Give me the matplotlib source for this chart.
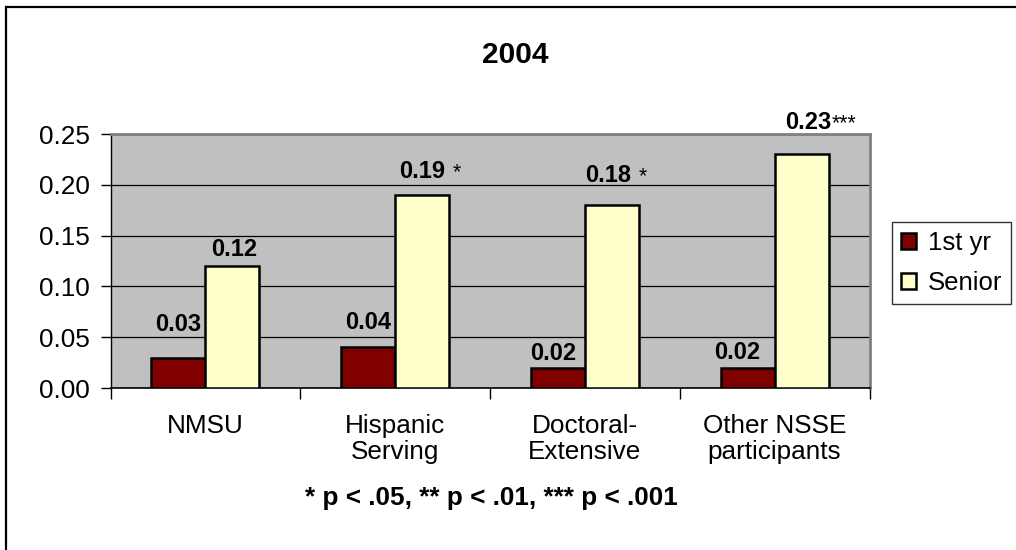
import matplotlib
matplotlib.use("Agg")
import matplotlib.pyplot as plt
import numpy as np
from matplotlib.patches import Rectangle

plt.rcParams['font.family'] = ['Liberation Sans', 'DejaVu Sans']

categories = ["NMSU", "Hispanic\nServing", "Doctoral-\nExtensive", "Other NSSE\nparticipants"]
first_yr = [0.03, 0.04, 0.02, 0.02]
senior = [0.12, 0.19, 0.18, 0.23]
senior_sig = ["", "*", "*", "***"]
yticks = [0.00, 0.05, 0.10, 0.15, 0.20, 0.25]
title = "2004"
footnote = "* p < .05, ** p < .01, *** p < .001"

# label placement styling (pixels)
fy_dy = [35, 26, 16, 17]
fy_dx = [0, 0, -5, -10]
sn_dy = [18, 25, 31, 33]
sn_dx = [2, 0, -4, 7]
sig_gap = [0, 8, 8, 0]

W, H = 1016, 550
fig = plt.figure(figsize=(W / 100, H / 100), dpi=100)
fig.patch.set_facecolor("white")

# outer frame (right/bottom edges fall outside the image)
fig.add_artist(Rectangle((6 / W, -10 / H), 1030 / W, (543 + 10) / H, transform=fig.transFigure,
                         fill=False, edgecolor="black", linewidth=1.6))

ax = fig.add_axes([110.5 / W, 1 - 388 / H, 759 / W, 254 / H])
ax.set_facecolor("#C0C0C0")

x = np.arange(len(categories))
bw = 0.284
b1 = ax.bar(x - bw / 2, first_yr, bw, color="#800000", edgecolor="black", linewidth=1.8,
            label="1st yr", zorder=3)
b2 = ax.bar(x + bw / 2, senior, bw, color="#FFFFCC", edgecolor="black", linewidth=1.8,
            label="Senior", zorder=3)

ax.set_xlim(-0.5, len(categories) - 0.5)
ax.set_ylim(0, 0.25)
ax.set_yticks(yticks)
ax.set_yticklabels([f"{v:.2f}" for v in yticks], fontsize=18.8)
ax.yaxis.grid(True, color="black", linewidth=0.9, zorder=1)
ax.set_axisbelow(True)

ax.set_xticks(np.arange(len(categories) + 1) - 0.5)
ax.set_xticklabels([])
ax.set_xticks(x, minor=True)
ax.set_xticklabels(categories, minor=True, fontsize=18.8, linespacing=1.08)
ax.tick_params(axis="x", which="minor", length=0, pad=19)
ax.tick_params(axis="x", which="major", length=8, width=1, direction="out")
ax.tick_params(axis="y", length=7, width=1, direction="out", pad=8)

for side in ["top", "right"]:
    ax.spines[side].set_color("#808080")
    ax.spines[side].set_linewidth(2)
ax.spines["left"].set_color("black")
ax.spines["bottom"].set_color("black")
ax.spines["left"].set_linewidth(1)
ax.spines["bottom"].set_linewidth(1.2)

for i, v in enumerate(first_yr):
    ax.annotate(f"{v:.2f}", (x[i] - bw / 2, v), xytext=(fy_dx[i], fy_dy[i] - 8),
                textcoords="offset pixels", ha="center", va="baseline",
                fontsize=17, fontweight="bold")
for i, v in enumerate(senior):
    ax.annotate(f"{v:.2f}", (x[i] + bw / 2, v), xytext=(sn_dx[i], sn_dy[i] - 8),
                textcoords="offset pixels", ha="center", va="baseline",
                fontsize=17, fontweight="bold")
    if senior_sig[i]:
        ax.annotate(senior_sig[i], (x[i] + bw / 2, v),
                    xytext=(sn_dx[i] + 23 + sig_gap[i], sn_dy[i] - 8),
                    textcoords="offset pixels", ha="left", va="baseline",
                    fontsize=15.5)

fig.text(515 / W, 1 - 55 / H, title, ha="center", va="center", fontsize=21.5, fontweight="bold")
fig.text(491 / W, 1 - 498 / H, footnote, ha="center", va="center", fontsize=18.8, fontweight="bold")

leg = fig.legend(handles=[b1, b2], loc="upper left", bbox_to_anchor=(892 / W, 1 - 222 / H),
                 fontsize=18.5, frameon=True, fancybox=False, edgecolor="black",
                 handlelength=0.6, handleheight=0.6, handletextpad=0.45,
                 borderpad=0.35, labelspacing=0.62, borderaxespad=0)
leg.get_frame().set_linewidth(1)

fig.savefig("out.png", dpi=100)
